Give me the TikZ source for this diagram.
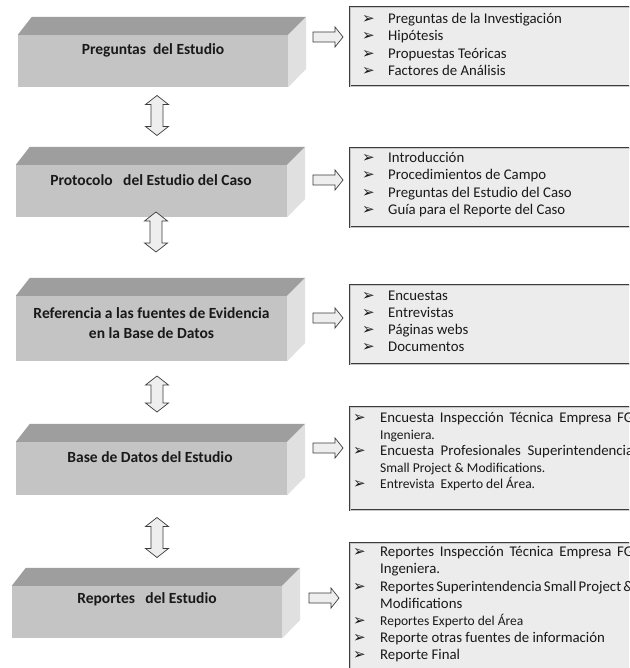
\documentclass[tikz,border=0pt]{standalone}
\usepackage{fontspec}
\setmainfont{Carlito}
\newfontfamily\bulletfont{DejaVu Sans}
\definecolor{frontgray}{RGB}{196,196,196}
\definecolor{topgray}{RGB}{158,158,158}
\definecolor{sidegray}{RGB}{224,224,224}
\definecolor{listfill}{RGB}{236,236,236}
\definecolor{arrowfill}{RGB}{238,238,238}
\definecolor{edgegray}{RGB}{60,60,60}

% bullet column and condensed lines
\newcommand{\bul}[1][26pt]{\makebox[#1][l]{\bulletfont\bfseries\fontsize{15}{12}\selectfont ➢}}
\newcommand{\cnd}{\fontsize{13.5}{16}\selectfont}
\newcommand{\jline}[1]{\makebox[253pt][s]{#1}}

% a solid block: front face node plus top and right faces
\newcommand{\solidblock}[5]{%
  \node[frontface, minimum width=#4, minimum height=#5] (#1) at (#2,#3) {};
  \fill[topgray] (#1.north west) -- ++(14,-18) -- ([shift={(18,-18)}]#1.north east) -- (#1.north east) -- cycle;
  \fill[sidegray] (#1.north east) -- ++(18,-18) -- ++(0,#5) -- (#1.south east) -- cycle;
}

\tikzset{
  pics/vdouble/.style={code={
    \draw[arrowstyle] (0,-#1) -- (11.5,-#1+9) -- (6,-#1+9) -- (6,#1-9) -- (11.5,#1-9)
      -- (0,#1) -- (-11.5,#1-9) -- (-6,#1-9) -- (-6,-#1+9) -- (-11.5,-#1+9) -- cycle;
  }},
  pics/rblock/.style={code={
    \draw[arrowstyle] (-15,-5) -- (7,-5) -- (7,-10) -- (15,0) -- (7,10) -- (7,5) -- (-15,5) -- cycle;
  }}
}

\begin{document}
\begin{tikzpicture}[x=1pt,y=-1pt,
  frontface/.style={fill=frontgray, draw=none, inner sep=0pt},
  title/.style={font=\bfseries\fontsize{15.5}{20}\selectfont, align=center, inner sep=0pt, text=black!90},
  listbox/.style={fill=listfill, draw=edgegray, line width=0.5pt, double=gray!45, double distance=0.7pt, anchor=north west, inner sep=0pt},
  listtext/.style={font=\fontsize{14.8}{17.2}\selectfont, align=left, anchor=north west, inner sep=0pt, text=black!90},
  arrowstyle/.style={fill=arrowfill, draw=edgegray, line width=0.7pt, line join=miter}
]
\useasboundingbox (0,0) rectangle (629,668);
\fill[white] (0,0) rectangle (629,668);
\clip (0,0) rectangle (629,668);

% left column of solid blocks
\solidblock{b1}{153}{61}{270}{52}
\solidblock{b2}{151.5}{191}{271}{52}
\solidblock{b3}{151.5}{328.5}{271}{65}
\solidblock{b4}{151.5}{468.5}{271}{53}
\solidblock{b5}{147}{612}{270}{52}

\node[title] (t1) at (153,50) {Preguntas\ \ del Estudio};
\node[title] (t2) at (151,180) {Protocolo\ \ \ del Estudio del Caso};
\node[title] (t3) at (151.5,323) {Referencia a las fuentes de Evidencia\\en la Base de Datos};
\node[title] (t4) at (150,457) {Base de Datos del Estudio};
\node[title] (t5) at (147,599) {Reportes\ \ \ del Estudio};

% two-way arrows between the blocks
\pic at (157,115.5) {vdouble=20};
\pic at (156,232) {vdouble=20};
\pic at (157,394) {vdouble=18};
\pic at (157,537.5) {vdouble=20};

% arrows towards the detail boxes
\pic at (328,37) {rblock};
\pic at (328,180) {rblock};
\pic at (328,318) {rblock};
\pic at (328,448) {rblock};
\pic at (324,598) {rblock};

% detail boxes
\node[listbox, minimum width=320, minimum height=79] (r1) at (350,7) {};
\node[listbox, minimum width=320, minimum height=79] (r2) at (350,148) {};
\node[listbox, minimum width=320, minimum height=79] (r3) at (350,285) {};
\node[listbox, minimum width=320, minimum height=103] (r4) at (350,407) {};
\node[listbox, minimum width=320, minimum height=150] (r5) at (350,543) {};

\node[listtext] (l1) at (362,12.5) {\rule{0pt}{11pt}\bul Preguntas de la Investigación\\
  \bul Hipótesis\\
  \bul Propuestas Teóricas\\
  \bul Factores de Análisis};
\node[listtext] (l2) at (362,151.5) {\rule{0pt}{11pt}\bul Introducción\\
  \bul Procedimientos de Campo\\
  \bul Preguntas del Estudio del Caso\\
  \bul Guía para el Reporte del Caso};
\node[listtext, font=\fontsize{14.8}{17}\selectfont] (l3) at (362,289.5) {\rule{0pt}{11pt}\bul Encuestas\\
  \bul Entrevistas\\
  \bul Páginas webs\\
  \bul Documentos};
\node[listtext, font=\fontsize{14.8}{16.5}\selectfont] (l4) at (353,411.5) {\rule{0pt}{11pt}\bul[27pt]\jline{Encuesta Inspección Técnica Empresa FG}\\
  \hspace*{27pt}{\cnd Ingeniera.}\\
  \bul[27pt]\jline{Encuesta Profesionales Superintendencia}\\
  \hspace*{27pt}{\cnd Small Project \& Modifications.}\\
  \bul[27pt]{\cnd Entrevista\ \ Experto del Área.}};
\node[listtext] (l5) at (353,545.5) {\rule{0pt}{11pt}\bul[27pt]\jline{Reportes Inspección Técnica Empresa FG}\\
  \hspace*{27pt}Ingeniera.\\
  \bul[27pt]\jline{Reportes Superintendencia Small Project \&}\\
  \hspace*{27pt}Modifications\\
  \bul[27pt]{\cnd Reportes Experto del Área}\\
  \bul[27pt]Reporte otras fuentes de información\\
  \bul[27pt]Reporte Final};
\end{tikzpicture}
\end{document}
